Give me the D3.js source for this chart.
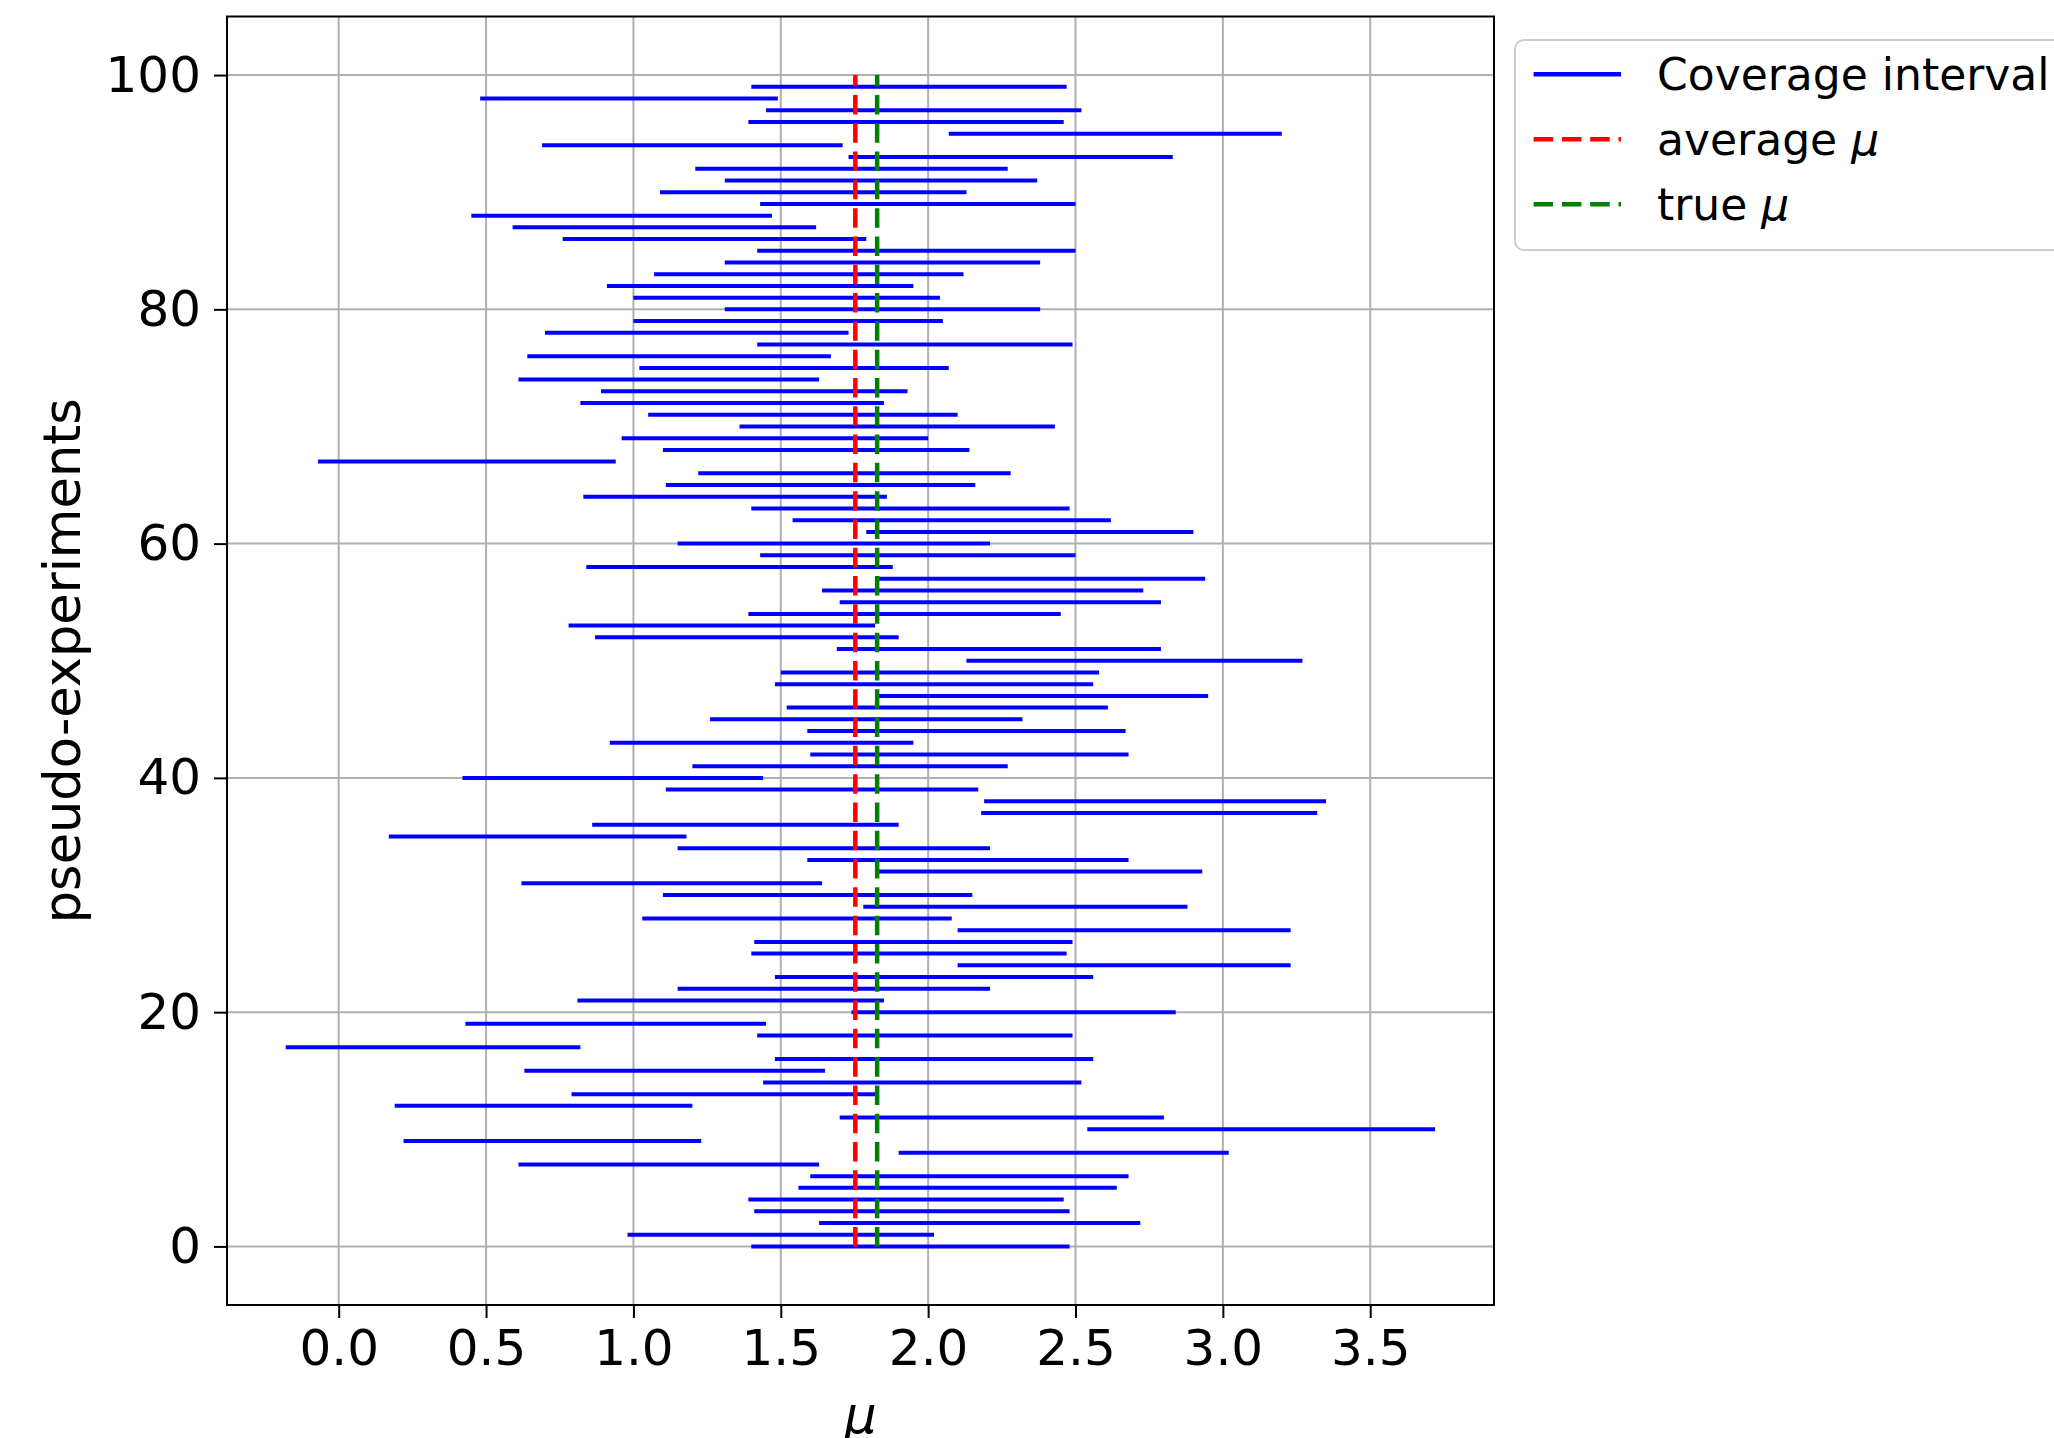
<!DOCTYPE html>
<html>
<head>
<meta charset="utf-8">
<script src="https://cdn.jsdelivr.net/npm/d3@7"></script>
<style>
  body { margin: 0; background: #fff; }
  svg { display: block; font-family: "DejaVu Sans", sans-serif; }
</style>
</head>
<body>
<svg id="chart" width="2054" height="1438"></svg>
<script>
// interval bounds, one per pseudo-experiment (index 0..99)
const lower = [
  1.40, 0.98, 1.63, 1.41, 1.39, 1.56, 1.60, 0.61, 1.90, 0.22,
  2.54, 1.70, 0.19, 0.79, 1.44, 0.63, 1.48, -0.18, 1.42, 0.43,
  1.74, 0.81, 1.15, 1.48, 2.10, 1.40, 1.41, 2.10, 1.03, 1.78,
  1.10, 0.62, 1.83, 1.59, 1.15, 0.17, 0.86, 2.18, 2.19, 1.11,
  0.42, 1.20, 1.60, 0.92, 1.59, 1.26, 1.52, 1.83, 1.48, 1.50,
  2.13, 1.69, 0.87, 0.78, 1.39, 1.70, 1.64, 1.83, 0.84, 1.43,
  1.15, 1.79, 1.54, 1.40, 0.83, 1.11, 1.22, -0.07, 1.10, 0.96,
  1.36, 1.05, 0.82, 0.89, 0.61, 1.02, 0.64, 1.42, 0.70, 1.00,
  1.31, 1.00, 0.91, 1.07, 1.31, 1.42, 0.76, 0.59, 0.45, 1.43,
  1.09, 1.31, 1.21, 1.73, 0.69, 2.07, 1.39, 1.45, 0.48, 1.40
];
const upper = [
  2.48, 2.02, 2.72, 2.48, 2.46, 2.64, 2.68, 1.63, 3.02, 1.23,
  3.72, 2.80, 1.20, 1.83, 2.52, 1.65, 2.56, 0.82, 2.49, 1.45,
  2.84, 1.85, 2.21, 2.56, 3.23, 2.47, 2.49, 3.23, 2.08, 2.88,
  2.15, 1.64, 2.93, 2.68, 2.21, 1.18, 1.90, 3.32, 3.35, 2.17,
  1.44, 2.27, 2.68, 1.95, 2.67, 2.32, 2.61, 2.95, 2.56, 2.58,
  3.27, 2.79, 1.90, 1.82, 2.45, 2.79, 2.73, 2.94, 1.88, 2.50,
  2.21, 2.90, 2.62, 2.48, 1.86, 2.16, 2.28, 0.94, 2.14, 2.00,
  2.43, 2.10, 1.85, 1.93, 1.63, 2.07, 1.67, 2.49, 1.73, 2.05,
  2.38, 2.04, 1.95, 2.12, 2.38, 2.50, 1.79, 1.62, 1.47, 2.50,
  2.13, 2.37, 2.27, 2.83, 1.71, 3.20, 2.46, 2.52, 1.49, 2.47
];
const avgMu = 1.753;
const trueMu = 1.827;

const xTicks = [0, 0.5, 1, 1.5, 2, 2.5, 3, 3.5];
const yTicks = [0, 20, 40, 60, 80, 100];

const legendItems = [
  { label: "Coverage interval", color: "#0000ff", dash: null, mu: false },
  { label: "average ", color: "#ff0000", dash: "19.5,8.8", mu: true },
  { label: "true ", color: "#008000", dash: "19.5,8.8", mu: true },
];

const data = lower.map((lo, i) => ({ i, lo, hi: upper[i] }));

const svg = d3.select("#chart");
const width = 2054, height = 1438;
const margin = { top: 16.5, right: 560, bottom: 133, left: 227 };
const innerW = width - margin.left - margin.right;
const innerH = height - margin.top - margin.bottom;
const tickFont = 50;
const labelFont = 51;
const legendFont = 44;

svg.append("rect").attr("width", width).attr("height", height).attr("fill", "#fff");

const g = svg.append("g").attr("transform", `translate(${margin.left},${margin.top})`);

const x = d3.scaleLinear().domain([-0.379, 3.920]).range([0, innerW]);
const y = d3.scaleLinear().domain([-5, 105]).range([innerH, 0]);

// grid
const gridG = g.append("g").attr("class", "grid");
gridG.selectAll("line.gx").data(xTicks).join("line")
  .attr("class", "gx")
  .attr("x1", d => x(d)).attr("x2", d => x(d))
  .attr("y1", 0).attr("y2", innerH)
  .attr("stroke", "#b0b0b0").attr("stroke-width", 2);
gridG.selectAll("line.gy").data(yTicks).join("line")
  .attr("class", "gy")
  .attr("x1", 0).attr("x2", innerW)
  .attr("y1", d => y(d)).attr("y2", d => y(d))
  .attr("stroke", "#b0b0b0").attr("stroke-width", 2);

// intervals
g.append("g").selectAll("line").data(data).join("line")
  .attr("x1", d => x(d.lo)).attr("x2", d => x(d.hi))
  .attr("y1", d => y(d.i)).attr("y2", d => y(d.i))
  .attr("stroke", "#0000ff").attr("stroke-width", 4);

// average and true mu, drawn upward from 0 to 100
[[avgMu, "#ff0000"], [trueMu, "#008000"]].forEach(([v, c]) => {
  g.append("path")
    .attr("d", `M${x(v)},${y(0)}L${x(v)},${y(100)}`)
    .attr("stroke", c).attr("stroke-width", 4.5)
    .attr("stroke-dasharray", "19.5,8.8")
    .attr("fill", "none");
});

// axes
const xAxisG = g.append("g").attr("transform", `translate(0,${innerH})`)
  .call(d3.axisBottom(x).tickValues(xTicks).tickFormat(d3.format(".1f"))
    .tickSize(13).tickSizeOuter(0).tickPadding(11));
const yAxisG = g.append("g")
  .call(d3.axisLeft(y).tickValues(yTicks).tickFormat(d3.format("d"))
    .tickSize(13).tickSizeOuter(0).tickPadding(13));

[xAxisG, yAxisG].forEach(a => {
  a.select(".domain").remove();
  a.selectAll(".tick line").attr("stroke", "#000").attr("stroke-width", 2);
  a.selectAll(".tick text")
    .attr("font-family", "DejaVu Sans").attr("font-size", tickFont).attr("fill", "#000");
});

// frame
g.append("rect")
  .attr("width", innerW).attr("height", innerH)
  .attr("fill", "none").attr("stroke", "#000").attr("stroke-width", 2);

// axis labels
svg.append("text")
  .attr("x", margin.left + innerW / 2).attr("y", 1433)
  .attr("text-anchor", "middle")
  .attr("font-size", labelFont).attr("font-style", "italic")
  .text("μ");

svg.append("text")
  .attr("transform", `translate(80,${margin.top + innerH / 2}) rotate(-90)`)
  .attr("text-anchor", "middle")
  .attr("font-size", labelFont)
  .text("pseudo-experiments");

// legend
const leg = svg.append("g").attr("transform", "translate(1515,40)");
leg.append("rect")
  .attr("width", 620).attr("height", 210).attr("rx", 9)
  .attr("fill", "#fff").attr("fill-opacity", 0.8)
  .attr("stroke", "#cccccc").attr("stroke-width", 2);

legendItems.forEach((d, k) => {
  const cy = 34.3 + k * 65;
  leg.append("line")
    .attr("x1", 18.6).attr("x2", 106).attr("y1", cy).attr("y2", cy)
    .attr("stroke", d.color).attr("stroke-width", 4.5)
    .attr("stroke-dasharray", d.dash);
  const t = leg.append("text")
    .attr("x", 142).attr("y", cy + 16)
    .attr("font-size", legendFont)
    .text(d.label);
  if (d.mu) t.append("tspan").attr("font-style", "italic").text("μ");
});
</script>
</body>
</html>
